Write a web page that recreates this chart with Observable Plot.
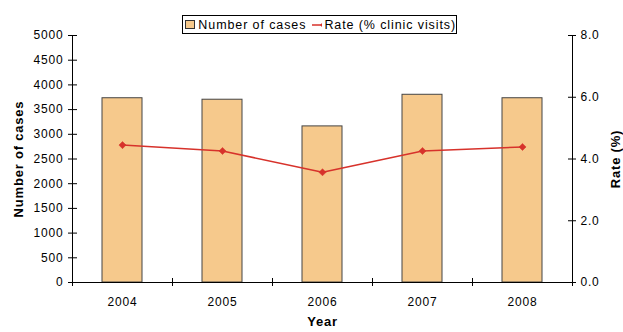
<!DOCTYPE html>
<html>
<head>
<meta charset="utf-8">
<script src="https://cdn.jsdelivr.net/npm/d3@7"></script>
<script src="https://cdn.jsdelivr.net/npm/@observablehq/plot@0.6"></script>
<style>
  html, body { margin: 0; padding: 0; background: #fff; }
  #wrap { position: relative; width: 623px; height: 332px; overflow: hidden; font-family: "Liberation Sans", Arial, sans-serif; }
  #wrap > svg { position: absolute; left: 0; top: 0; }
  #legend { position: absolute; left: 182px; top: 15px; width: 273px; height: 17px; border: 1px solid #000; background: #fff;
            display: flex; align-items: center; font-size: 12.5px; letter-spacing: 0.9px; color: #000; white-space: nowrap; }
  #legend .sw { display: inline-block; width: 20px; height: 7px; background: #F6C98C; border: 1px solid #333; margin: 0 3px 0 2px; }
</style>
</head>
<body>
<div id="wrap"></div>
<script>
const years = ["2004", "2005", "2006", "2007", "2008"];
const cases = [3730, 3700, 3160, 3800, 3730];
const rates = [4.45, 4.26, 3.57, 4.26, 4.39];
const caseTicks = [0, 500, 1000, 1500, 2000, 2500, 3000, 3500, 4000, 4500, 5000];
const rateTicks = [0, 2, 4, 6, 8];
const boundaries = [0, 1, 2, 3, 4, 5];

const W = 623, H = 332;
const mL = 72, mR = 51, mT = 35, mB = 50;
const innerW = W - mL - mR;
const barColor = "#F6C98C";
const red = "#D7322B";
const font = {fontFamily: "'Liberation Sans', Arial, sans-serif", fontSize: "12px", letterSpacing: "0.8px", background: "transparent", overflow: "visible"};

const data = years.map((y, i) => ({year: y, idx: i + 0.5, cases: cases[i], rate: rates[i]}));

const p1 = Plot.plot({
  width: W, height: H,
  marginLeft: mL, marginRight: mR, marginTop: mT, marginBottom: mB,
  style: font,
  x: {type: "band", domain: years, paddingInner: 0.6, paddingOuter: 0.3, axis: null},
  y: {domain: [0, 5000], axis: null},
  marks: [
    Plot.barY(data, {x: "year", y: "cases", fill: barColor, stroke: "#444", strokeWidth: 1}),
    Plot.ruleY(caseTicks, {y: d => d, insetLeft: -4, insetRight: innerW - 5, stroke: "#000"}),
    Plot.axisY({ticks: caseTicks, tickSize: 0, tickPadding: 9, tickFormat: d3.format("d"), label: null, fill: "#000"}),
    Plot.axisX({tickSize: 0, tickPadding: 15, label: null, fill: "#000"}),
    Plot.text(["Number of cases"], {frameAnchor: "left", textAnchor: "middle", rotate: -90, dx: -54, fontWeight: "bold", fontSize: 13, fill: "#000"}),
    Plot.text(["Year"], {frameAnchor: "bottom", textAnchor: "middle", dy: 43, fontWeight: "bold", fontSize: 13, fill: "#000"})
  ]
});

const p2 = Plot.plot({
  width: W, height: H,
  marginLeft: mL, marginRight: mR, marginTop: mT, marginBottom: mB,
  style: font,
  x: {domain: [0, 5], axis: null},
  y: {domain: [0, 8], axis: null},
  marks: [
    Plot.ruleX([0, 5], {stroke: "#000"}),
    Plot.ruleY([0], {stroke: "#000"}),
    Plot.ruleX(boundaries, {x: d => d, y1: 0, y2: 0, insetTop: 4, insetBottom: 4, stroke: "#000"}),
    Plot.ruleY(rateTicks, {y: d => d, insetLeft: innerW - 4, insetRight: -4, stroke: "#000"}),
    Plot.axisY({anchor: "right", ticks: rateTicks, tickSize: 0, tickPadding: 8, tickFormat: d3.format(".1f"), label: null, fill: "#000"}),
    Plot.lineY(data, {x: "idx", y: "rate", stroke: red, strokeWidth: 1.5}),
    Plot.dot(data, {x: "idx", y: "rate", symbol: "diamond2", r: 3.2, fill: red, stroke: red, strokeWidth: 0.5}),
    Plot.text(["Rate (%)"], {frameAnchor: "right", textAnchor: "middle", rotate: -90, dx: 43, fontWeight: "bold", fontSize: 13, fill: "#000"})
  ]
});

const wrap = document.getElementById("wrap");
wrap.appendChild(p1);
wrap.appendChild(p2);

const legend = document.createElement("div");
legend.id = "legend";
legend.innerHTML =
  '<span class="sw"></span><span>Number of cases</span>' +
  '<svg width="24" height="10" style="margin:0 2px 0 6px"><line x1="0" y1="5" x2="22" y2="5" stroke="' + red + '" stroke-width="1.5"/>' +
  '<path d="M11,2 L14,5 L11,8 L8,5 Z" fill="' + red + '"/></svg>' +
  '<span>Rate (% clinic visits)</span>';
wrap.appendChild(legend);
</script>
</body>
</html>
